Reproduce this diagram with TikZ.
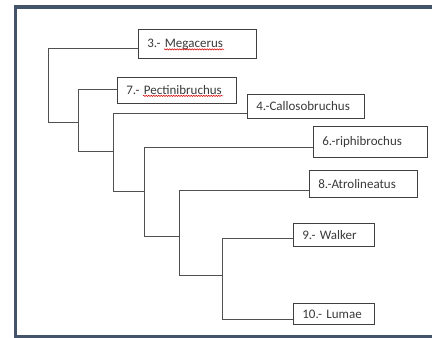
\documentclass[tikz,border=0pt]{standalone}
\usepackage{fontspec}
\setmainfont{Carlito}
\usetikzlibrary{decorations.pathmorphing}
\definecolor{framec}{HTML}{44546A}
\definecolor{boxc}{HTML}{404040}
\definecolor{linec}{HTML}{505050}
\definecolor{txtc}{HTML}{3A3A3A}
\begin{document}
\begin{tikzpicture}[x=1pt,y=-1pt,
  box/.style={draw=boxc, line width=0.8pt, anchor=north west, inner xsep=9pt, inner ysep=0pt,
    align=left, text=txtc, font=\fontsize{13}{15}\selectfont},
  conn/.style={draw=linec, line width=1pt},
  spell/.style={draw=red!85!black, line width=0.5pt, decorate,
    decoration={snake, amplitude=0.6pt, segment length=2.5pt}}]
\useasboundingbox (0,0) rectangle (432,338);
\fill[white] (0,0) rectangle (432,338);
\draw[framec, line width=3.5pt] (15.5,7) rectangle (445,337);
% taxa
\node[box, text width=100pt, minimum height=29pt] (m) at (138,29) {3.- Megacerus};
\node[box, text width=101pt, minimum height=26pt] (p) at (117,77) {7.- Pectinibruchus};
\node[box, text width=99pt, minimum height=24pt] (c) at (247,94) {4.-Callosobruchus};
\node[box, text width=96pt, minimum height=31pt] (r) at (313,126) {6.-riphibrochus};
\node[box, text width=90pt, minimum height=27pt] (a) at (309,170) {8.-Atrolineatus};
\node[box, text width=63pt, minimum height=23pt] (w) at (293,223) {9.- Walker};
\node[box, text width=63pt, minimum height=21pt] (l) at (293,303) {10.- Lumae};
% spell-check underlines
\draw[spell] ([shift={(26,5.5)}]m.west) -- ++(60,0);
\draw[spell] ([shift={(26,5.5)}]p.west) -- ++(80,0);
% tips on box edges
\coordinate (tm) at (m.west |- 0,48);
\coordinate (tp) at (p.west |- 0,89);
\coordinate (tc) at (c.west |- 0,113);
\coordinate (tr) at (r.west |- 0,147);
\coordinate (ta) at (a.west |- 0,190);
\coordinate (tw) at (w.west |- 0,238);
\coordinate (tl) at (l.west |- 0,319);
% internal nodes
\coordinate (j1) at (48,122);
\coordinate (j2) at (78,151);
\coordinate (j3) at (113,191);
\coordinate (j4) at (144,236);
\coordinate (j5) at (179,275);
\coordinate (j6) at (222,319);
% connectors
\draw[conn] (tm) -| (j1) -- (j1 -| j2);
\draw[conn] (tp) -| (j2) -- (j2 -| j3);
\draw[conn] (tc) -| (j3) -- (j3 -| j4);
\draw[conn] (tr) -| (j4) -- (j4 -| j5);
\draw[conn] (ta) -| (j5) -- (j5 -| j6);
\draw[conn] (tw) -| (j6) -- (tl);
\end{tikzpicture}
\end{document}
